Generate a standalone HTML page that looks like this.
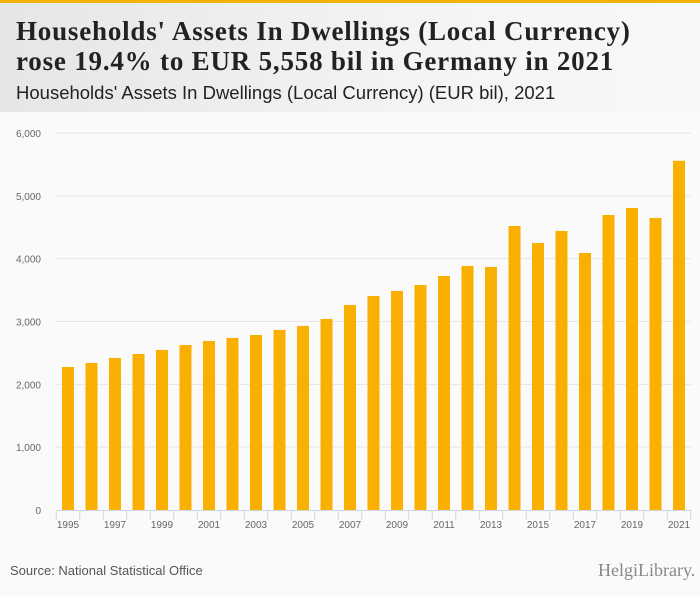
<!DOCTYPE html>
<html><head><meta charset="utf-8"><style>
body{margin:0;width:700px;height:596px;background:#fafafa;font-family:"Liberation Sans",sans-serif;overflow:hidden;position:relative}
#hdr{position:absolute;left:0;top:0;width:700px;height:112px;background:linear-gradient(90deg,#e6e6e6,#f4f4f4 60%,#f8f8f8);border-top:3px solid #f5b100;box-sizing:border-box}
#t1{position:absolute;left:16px;top:13px;font-family:"Liberation Serif",serif;font-weight:bold;font-size:27px;letter-spacing:0.8px;line-height:30px;color:#222;white-space:nowrap}
#t2{position:absolute;left:16px;top:79px;font-size:18.5px;color:#222;white-space:nowrap}
#src{position:absolute;left:10px;top:563px;font-size:13px;color:#555}
#logo{position:absolute;left:598px;top:560px;font-size:18px;color:#888;font-family:"Liberation Serif",serif}
svg{position:absolute;left:0;top:0}
</style></head><body>
<div id="hdr">
<div id="t1">Households' Assets In Dwellings (Local Currency)<br>rose 19.4% to EUR 5,558 bil in Germany in 2021</div>
<div id="t2">Households' Assets In Dwellings (Local Currency) (EUR bil), 2021</div>
</div>
<svg id="chart" width="700" height="596"></svg>
<div id="src">Source: National Statistical Office</div>
<div id="logo">HelgiLibrary.</div>
<script>
const years=[1995,1996,1997,1998,1999,2000,2001,2002,2003,2004,2005,2006,2007,2008,2009,2010,2011,2012,2013,2014,2015,2016,2017,2018,2019,2020,2021];
const values=[2276,2340,2420,2483,2547,2626,2690,2738,2785,2865,2929,3040,3263,3406,3486,3581,3724,3884,3868,4520,4250,4441,4090,4695,4806,4648,5558];
const yTicks=[0,1000,2000,3000,4000,5000,6000];
const svg=document.getElementById('chart');const NS='http://www.w3.org/2000/svg';
const x0=56.25,x1=690.75,y0=510,y1=133,yMax=6000;
const band=(x1-x0)/years.length;
const xs=i=>x0+band*(i+0.5);
const ys=v=>y0-(y0-y1)*v/yMax;
function mk(t,a){const e=document.createElementNS(NS,t);for(const k in a)e.setAttribute(k,a[k]);svg.appendChild(e);return e;}
yTicks.forEach(v=>{
 if(v>0){const g=mk('line',{x1:x0,x2:x1,y1:ys(v),y2:ys(v),stroke:'#e6e6e6','stroke-width':1});
 
 }
 const t=mk('text',{x:41,y:ys(v)+4,'text-anchor':'end','font-size':'10','fill':'#666','font-family':'Liberation Sans, sans-serif'});
 t.textContent=v.toLocaleString('en-US');
 
 
});
values.forEach((v,i)=>{
 const r=mk('rect',{x:xs(i)-6,y:ys(v),width:12,height:y0-ys(v),fill:'#f9b000'});
 
 
});
const ax=mk('line',{x1:x0,x2:x1,y1:y0+0.5,y2:y0+0.5,stroke:'#ccd6eb'});


for(let i=0;i<=years.length;i++){const tk=mk('line',{x1:x0+band*i,x2:x0+band*i,y1:y0,y2:y0+10,stroke:'#ccd6eb'});
 
 }
years.forEach((yr,i)=>{if(i%2)return;
 const t=mk('text',{x:xs(i),y:528,'text-anchor':'middle','font-size':'10','fill':'#666','font-family':'Liberation Sans, sans-serif'});
 t.textContent=yr;
 
 });
</script>
</body></html>
